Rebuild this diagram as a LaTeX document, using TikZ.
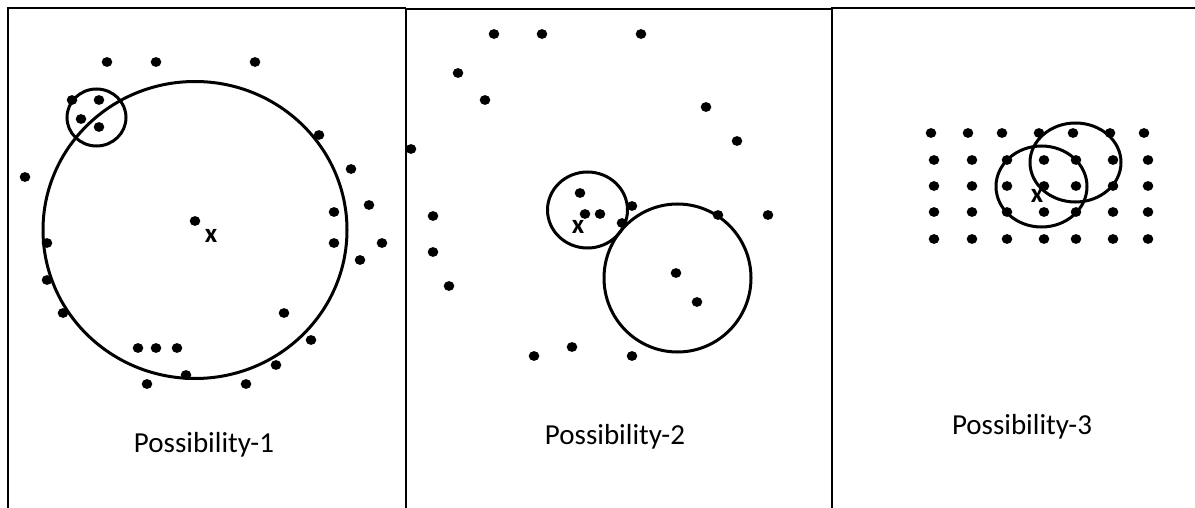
\documentclass[tikz,border=0pt]{standalone}
\usepackage{fontspec}
\setmainfont{Carlito}
\begin{document}
\begin{tikzpicture}[x=1pt,y=-1pt,
  frame/.style={line width=2pt,black},
  ring/.style={line width=3pt,black},
  dotmark/.style={fill=black},
  caption/.style={font=\fontsize{29}{34}\selectfont,inner sep=0pt},
  xlabel/.style={font=\fontsize{27}{30}\selectfont\bfseries,inner sep=0pt}]
\useasboundingbox (0,0) rectangle (1195,508);
% frames
\draw[frame] (7.5,508) -- (7.5,8) -- (406,8);
\draw[frame] (406,508) -- (406,9.5) -- (832,9.5);
\draw[frame] (832,508) -- (832,8.5) -- (1195,8.5);
% Panel 1
\draw[ring] (195,230) ellipse (152 and 148.5);
\draw[ring] (96.5,117.5) ellipse (29.5 and 28.5);
\foreach \p in {(107,62),(156,62),(255,62),(72,100),(99,100),(81,119),(99,127),
  (25,177),(195,221),(319,135),(351,169),(369,205),(334,212),(334,243),(382,243),
  (47,243),(360,260),(47,280),(63,313),(284,313),(311,340),(276,365),
  (138,348),(156,348),(177,348),(186,375),(147,384),(246,384)}
  \fill[dotmark] \p circle[x radius=5.3pt, y radius=4.9pt];
\node[xlabel] (x1) at (211,236) {x};
\node[caption] (cap1) at (204,445) {Possibility-1};
% Panel 2
\draw[ring] (587.5,210) ellipse (40 and 38);
\draw[ring] (677.5,278) ellipse (73.5 and 74);
\foreach \p in {(494,34),(542,34),(641,34),(458,73),(485,100),(706,107),(737,141),
  (411,149),(580,193),(585,214),(600,214),(632,206),(622,223),(718,215),(768,215),
  (433,216),(433,252),(449,286),(676,273),(697,302),(572,347),(534,356),(632,356)}
  \fill[dotmark] \p circle[x radius=5.3pt, y radius=4.9pt];
\node[xlabel] (x2) at (578,227) {x};
\node[caption] (cap2) at (615,437) {Possibility-2};
% Panel 3
\foreach \xx in {931,968,1002,1039,1073,1110,1144}
  \fill[dotmark] (\xx,133) circle[x radius=5.3pt, y radius=4.9pt];
\foreach \yy in {160,186,212,239}
  \foreach \xx in {934,972,1007,1044,1076,1113,1148}
    \fill[dotmark] (\xx,\yy) circle[x radius=5.3pt, y radius=4.9pt];
\draw[ring] (1041.5,186.5) ellipse (45.5 and 40.5);
\draw[ring] (1075.5,162.5) ellipse (45.5 and 39.5);
\node[xlabel] (x3) at (1037,196) {x};
\node[caption] (cap3) at (1022,427) {Possibility-3};
\end{tikzpicture}
\end{document}
